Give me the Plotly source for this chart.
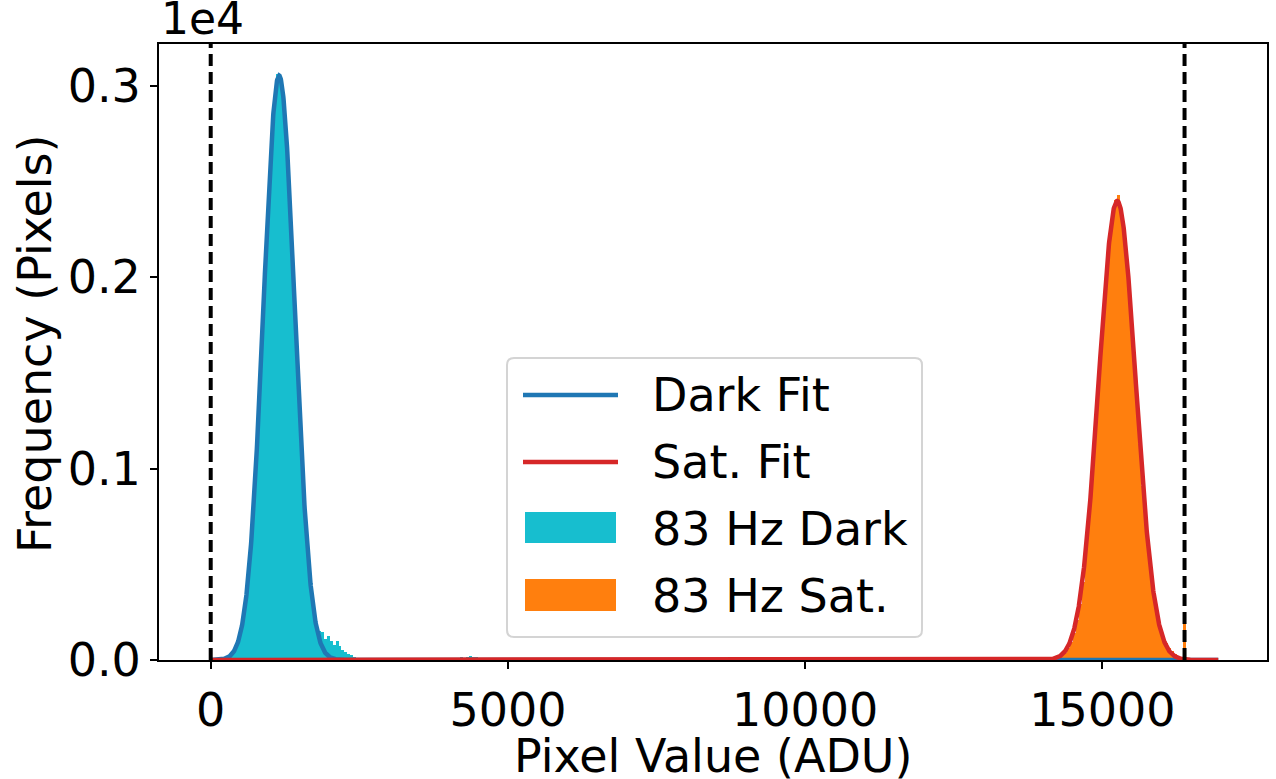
import numpy as np
import plotly.graph_objects as go

# ---------------- data ----------------
bin_width = 50
dark_centers = list(range(25, 2676, 50))          # 0 .. 2650 ADU
dark_counts = [0, 0, 1, 2, 4, 8, 15, 29, 53, 90, 150, 240, 365, 535, 758,
               1030, 1352, 1705, 2066, 2412, 2708, 2925, 3062, 3038, 2936,
               2720, 2425, 2080, 1718, 1365, 1045, 770, 548, 375, 250, 183,
               150, 148, 110, 125, 100, 78, 100, 71, 53, 42, 30, 25, 18, 12,
               10, 6, 3]
bump_centers = [4225, 4275, 4325, 4375, 4425, 4475, 4525, 4575]
bump_counts = [12, 18, 8, 16, 20, 14, 17, 9]

sat_centers = list(range(14125, 16376, 50))       # 14100 .. 16400 ADU
sat_counts = [3, 5, 8, 15, 24, 39, 62, 95, 143, 208, 295, 407, 547, 715, 911,
              1129, 1363, 1602, 1832, 2040, 2211, 2333, 2405, 2430, 2333,
              2211, 2040, 1832, 1602, 1363, 1129, 911, 715, 547, 407, 320,
              240, 175, 125, 90, 62, 45, 30, 20, 12, 215]

# Gaussian fit parameters: amplitude, mean, sigma
dark_fit = [3055, 1150, 262]
sat_fit = [2400, 15250, 312]
fit_range = [0, 16950]

v_lines = [0, 16383]
x_ticks = [0, 5000, 10000, 15000]
x_tick_text = ["0", "5000", "10000", "15000"]
y_ticks = [0, 1000, 2000, 3000]
y_tick_text = ["0.0", "0.1", "0.2", "0.3"]

# ---------------- figure ----------------
W, H = 1276, 779
L, R, T, B = 159, 9, 44, 119
pw, ph = W - L - R, H - T - B
FONT = "DejaVu Sans"
FS = 46

def px(x):
    return (x - L) / pw

def py(y):
    return (H - B - y) / ph

xf = np.linspace(fit_range[0], fit_range[1], 4000)

def gauss(x, p):
    a, m, s = p
    return a * np.exp(-(x - m) ** 2 / (2 * s ** 2))

fig = go.Figure()
fig.add_trace(go.Bar(x=dark_centers + bump_centers, y=dark_counts + bump_counts,
                     width=bin_width, marker=dict(color="#17becf", line=dict(width=0)),
                     name="83 Hz Dark", showlegend=False))
fig.add_trace(go.Bar(x=sat_centers, y=sat_counts, width=bin_width,
                     marker=dict(color="#ff7f0e", line=dict(width=0)),
                     name="83 Hz Sat.", showlegend=False))
fig.add_trace(go.Scatter(x=xf, y=gauss(xf, dark_fit), mode="lines",
                         line=dict(color="#1f77b4", width=4.5), name="Dark Fit",
                         showlegend=False))
fig.add_trace(go.Scatter(x=xf, y=gauss(xf, sat_fit), mode="lines",
                         line=dict(color="#d62728", width=4.5), name="Sat. Fit",
                         showlegend=False))

shapes = []
for v in v_lines:
    shapes.append(dict(type="line", xref="x", yref="paper", x0=v, x1=v, y0=0, y1=1,
                       line=dict(color="black", width=4, dash="12px,6px")))

# custom matplotlib-like legend
bx0, bx1, by0, by1 = px(507), px(922), py(637), py(358)
rx, ry = 7 / pw, 7 / ph
path = (f"M {bx0+rx},{by0} L {bx1-rx},{by0} Q {bx1},{by0} {bx1},{by0+ry} "
        f"L {bx1},{by1-ry} Q {bx1},{by1} {bx1-rx},{by1} L {bx0+rx},{by1} "
        f"Q {bx0},{by1} {bx0},{by1-ry} L {bx0},{by0+ry} Q {bx0},{by0} {bx0+rx},{by0} Z")
shapes.append(dict(type="path", xref="paper", yref="paper", path=path,
                   fillcolor="rgba(255,255,255,0.8)", line=dict(color="#d4d4d4", width=2)))
shapes.append(dict(type="line", xref="paper", yref="paper", x0=px(523), x1=px(618),
                   y0=py(395), y1=py(395), line=dict(color="#1f77b4", width=4.5)))
shapes.append(dict(type="line", xref="paper", yref="paper", x0=px(523), x1=px(618),
                   y0=py(462), y1=py(462), line=dict(color="#d62728", width=4.5)))
shapes.append(dict(type="rect", xref="paper", yref="paper", x0=px(525), x1=px(616),
                   y0=py(543), y1=py(512), fillcolor="#17becf", line=dict(width=0)))
shapes.append(dict(type="rect", xref="paper", yref="paper", x0=px(525), x1=px(616),
                   y0=py(611), y1=py(579), fillcolor="#ff7f0e", line=dict(width=0)))

annotations = []
for txt, yc in [("Dark Fit", 395), ("Sat. Fit", 462), ("83 Hz Dark", 529), ("83 Hz Sat.", 596)]:
    annotations.append(dict(text=txt, xref="paper", yref="paper", x=px(650), y=py(yc),
                            xanchor="left", yanchor="middle", showarrow=False,
                            font=dict(family=FONT, size=FS, color="black")))
annotations.append(dict(text="1e4", xref="paper", yref="paper", x=px(159), y=1,
                        xanchor="left", yanchor="bottom", showarrow=False, yshift=-2,
                        font=dict(family=FONT, size=44, color="black")))
# axis titles
annotations.append(dict(text="Pixel Value (ADU)", xref="paper", yref="paper",
                        x=0.5, y=py(756), xanchor="center", yanchor="middle",
                        showarrow=False, font=dict(family=FONT, size=FS, color="black")))
annotations.append(dict(text="Frequency (Pixels)", xref="paper", yref="paper",
                        x=px(35), y=py(344), xanchor="center", yanchor="middle",
                        textangle=-90, showarrow=False,
                        font=dict(family=FONT, size=FS, color="black")))

fig.update_layout(
    width=W, height=H,
    margin=dict(l=L, r=R, t=T, b=B, pad=0, autoexpand=False),
    paper_bgcolor="white", plot_bgcolor="white",
    bargap=0, barmode="overlay",
    font=dict(family=FONT, size=FS, color="black"),
    shapes=shapes, annotations=annotations,
    showlegend=False,
)
fig.update_xaxes(range=[-870, 17770], tickvals=x_ticks, ticktext=x_tick_text,
                 ticks="outside", ticklen=7, ticklabelstandoff=2, automargin=False,
                 tickwidth=2, tickcolor="black", showline=True, linecolor="black",
                 linewidth=2, mirror=True, showgrid=False, zeroline=False,
                 tickfont=dict(family=FONT, size=FS))
fig.update_yaxes(range=[0, 3220], tickvals=y_ticks, ticktext=y_tick_text, ticks="outside",
                 ticklen=7, tickwidth=2, tickcolor="black", showline=True, automargin=False,
                 linecolor="black", linewidth=2, mirror=True, showgrid=False,
                 zeroline=False, tickfont=dict(family=FONT, size=FS))

fig.write_html("out.html")
